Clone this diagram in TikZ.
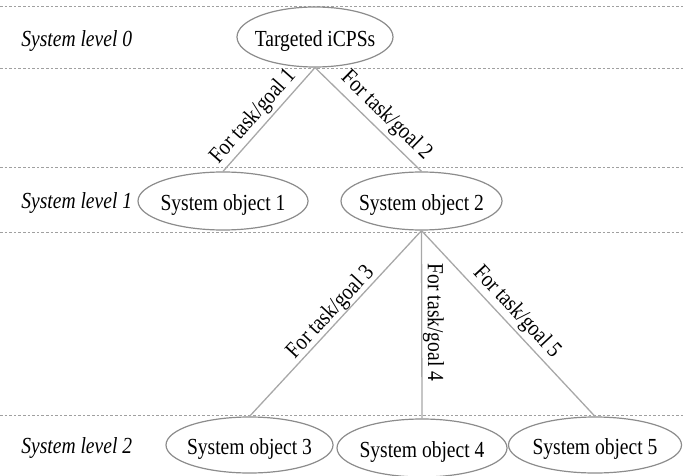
\documentclass[tikz,border=0pt]{standalone}
\usepackage{fontspec}
\setmainfont{Liberation Serif}[FakeStretch=0.85]
\usetikzlibrary{shapes.geometric}
\definecolor{rim}{RGB}{140,140,140}
\definecolor{linkgray}{RGB}{168,168,168}
\definecolor{guidegray}{RGB}{160,160,160}

\begin{document}
\begin{tikzpicture}[x=0.5pt,y=-0.5pt,
  font=\fontsize{11.5}{13}\selectfont,
  obj/.style={ellipse, draw=rim, line width=0.6pt, fill=white, inner sep=0pt},
  objtext/.style={anchor=base, inner sep=0pt, yshift=-4.75pt},
  levellabel/.style={anchor=base west, inner sep=0pt, font=\fontsize{11.5}{13}\selectfont\itshape},
  linkline/.style={draw=linkgray, line width=0.65pt},
  guide/.style={draw=guidegray, line width=0.5pt, dash pattern=on 1.3pt off 1pt},
  tag/.style={sloped, inner sep=0pt}]
\useasboundingbox (0,0) rectangle (683,475);

% level separators
\foreach \yy in {7,69,168,233,415}
  \draw[guide] (0,\yy) -- (683,\yy);

% level captions
\node[levellabel] (lv0) at (21,47) {System level 0};
\node[levellabel] (lv1) at (21,209) {System level 1};
\node[levellabel] (lv2) at (21,453) {System level 2};

% system objects
\node[obj, minimum width=78pt, minimum height=30pt] (root) at (315,37) {};
\node[objtext] (rootT) at (root.center) {Targeted iCPSs};
\node[obj, minimum width=85pt, minimum height=29pt] (o1) at (223,201) {};
\node[objtext] (o1T) at (o1.center) {System object 1};
\node[obj, minimum width=80.5pt, minimum height=29pt] (o2) at (421.5,201) {};
\node[objtext] (o2T) at (o2.center) {System object 2};
\node[obj, minimum width=83.5pt, minimum height=28pt] (o3) at (249.5,445) {};
\node[objtext] (o3T) at (o3.center) {System object 3};
\node[obj, minimum width=85pt, minimum height=29pt] (o4) at (422,448) {};
\node[objtext] (o4T) at (o4.center) {System object 4};
\node[obj, minimum width=86.5pt, minimum height=28pt] (o5) at (595,445) {};
\node[objtext] (o5T) at (o5.center) {System object 5};

% task/goal links
\draw[linkline] (root.south) -- node[tag, above=1.25pt, pos=0.56] (t1) {For task/goal 1} (o1.north);
\draw[linkline] (root.south) -- node[tag, above=2pt, pos=0.57] (t2) {For task/goal 2} (o2.north);
\draw[linkline] (o2.south) -- node[tag, above=0pt, pos=0.48] (t3) {For task/goal 3} (o3.north);
\draw[linkline] (o2.south) -- node[tag, above=0.3pt, pos=0.49] (t4) {For task/goal 4} (o4.north);
\draw[linkline] (o2.south) -- node[tag, above=1.3pt, pos=0.49] (t5) {For task/goal 5} (o5.north);
\end{tikzpicture}
\end{document}
